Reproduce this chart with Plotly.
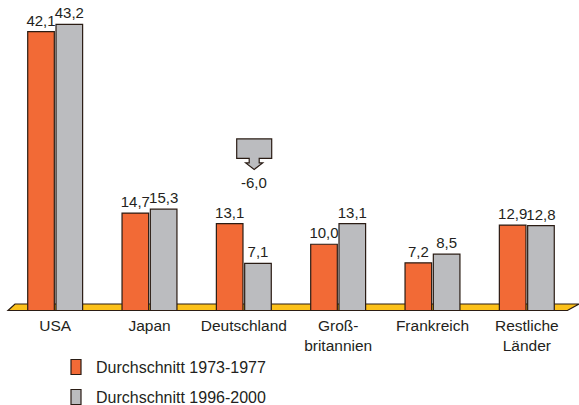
import plotly.graph_objects as go

# Categories and the two averaging periods
categories = ["USA", "Japan", "Deutschland", "Groß-<br>britannien", "Frankreich", "Restliche<br>Länder"]
series_names = ["Durchschnitt 1973-1977", "Durchschnitt 1996-2000"]
values_1973_1977 = [42.1, 14.7, 13.1, 10.0, 7.2, 12.9]
values_1996_2000 = [43.2, 15.3, 7.1, 13.1, 8.5, 12.8]

ORANGE = "#F26A36"
GREY = "#BBBCBF"
FLOOR = "#FCC11A"
EDGE = "#2a1c14"
TEXT = "#231f20"
FONT = "Liberation Sans, Arial, sans-serif"

W, H = 579, 405
ML, MR, MT, MB = 6, 0, 10, 93
PX_PER_CAT = 94.33
PX_PER_UNIT = 6.625
X0 = -0.5 - 2 / PX_PER_CAT
X1 = X0 + (W - ML - MR) / PX_PER_CAT
Y0 = -1.5 / PX_PER_UNIT
Y1 = Y0 + (H - MT - MB) / PX_PER_UNIT


def fmt(v):
    return f"{v:.1f}".replace(".", ",")


x_idx = list(range(len(categories)))

fig = go.Figure()
for name, vals, col in [(series_names[0], values_1973_1977, ORANGE),
                        (series_names[1], values_1996_2000, GREY)]:
    fig.add_trace(go.Bar(
        x=x_idx, y=vals, name=name,
        marker=dict(color=col, line=dict(color=EDGE, width=1.2)),
        text=[fmt(v) for v in vals], textposition="outside",
        constraintext="none",
        textfont=dict(size=15, color=TEXT, family=FONT),
        cliponaxis=False, showlegend=False,
    ))

shapes = []

# Yellow floor slab under the bars (parallelogram)
n = len(categories)
skew = 7 / PX_PER_CAT
floor_h = 6.5 / PX_PER_UNIT
shapes.append(dict(
    type="path", xref="x", yref="y", layer="below",
    path=(f"M {-0.5} 0 L {n - 0.5 - 0.07} 0 L {n - 0.5 + 0.053} {floor_h} "
          f"L {-0.5 + skew} {floor_h} Z"),
    fillcolor=FLOOR, line=dict(color=EDGE, width=1.2),
))

# Down-arrow marking the change for Deutschland
i_de = 2
change = values_1996_2000[i_de] - values_1973_1977[i_de]
cx = i_de + 0.11
u = 1 / PX_PER_CAT   # one pixel in x units
v = 1 / PX_PER_UNIT  # one pixel in y units
top = 25.9
pts = [(-17.5, 0), (17.5, 0), (17.5, -19.5), (5, -19.5), (5, -24), (8.5, -24),
       (0, -30.5), (-8.5, -24), (-5, -24), (-5, -19.5), (-17.5, -19.5)]
path = "M " + " L ".join(f"{cx + dx * u} {top + dy * v}" for dx, dy in pts) + " Z"
shapes.append(dict(type="path", xref="x", yref="y", path=path,
                   fillcolor=GREY, line=dict(color=EDGE, width=1.2)))

annotations = [dict(
    x=cx, y=top - 44 * v, xref="x", yref="y", text=fmt(change),
    showarrow=False, font=dict(size=15, color=TEXT, family=FONT),
    xanchor="center", yanchor="middle",
)]


# Legend drawn below the axis
def px_x(px):
    return (px - ML) / (W - ML - MR)


def px_y(py):
    return (H - MB - py) / (H - MT - MB)


for k, (name, col) in enumerate([(series_names[0], ORANGE), (series_names[1], GREY)]):
    yc = 367 + 30 * k
    shapes.append(dict(type="rect", xref="paper", yref="paper",
                       x0=px_x(71), x1=px_x(81), y0=px_y(yc - 7.5), y1=px_y(yc + 7.5),
                       fillcolor=col, line=dict(color=EDGE, width=1.2)))
    annotations.append(dict(x=px_x(94), y=px_y(yc), xref="paper", yref="paper",
                            text=name, showarrow=False, xanchor="left", yanchor="middle",
                            font=dict(size=16, color=TEXT, family=FONT)))

fig.update_layout(
    width=W, height=H,
    margin=dict(l=ML, r=MR, t=MT, b=MB),
    paper_bgcolor="white", plot_bgcolor="white",
    barmode="group", bargap=0.4, bargroupgap=0.06,
    font=dict(family=FONT, color=TEXT),
    xaxis=dict(range=[X0, X1], tickmode="array", tickvals=x_idx, ticktext=categories,
               showgrid=False, zeroline=False, showline=False, ticks="",
               ticklabelstandoff=2,
               tickfont=dict(size=15.5, color=TEXT, family=FONT)),
    yaxis=dict(range=[Y0, Y1], visible=False, showgrid=False, zeroline=False),
    shapes=shapes, annotations=annotations,
)

fig.write_html("out.html")
